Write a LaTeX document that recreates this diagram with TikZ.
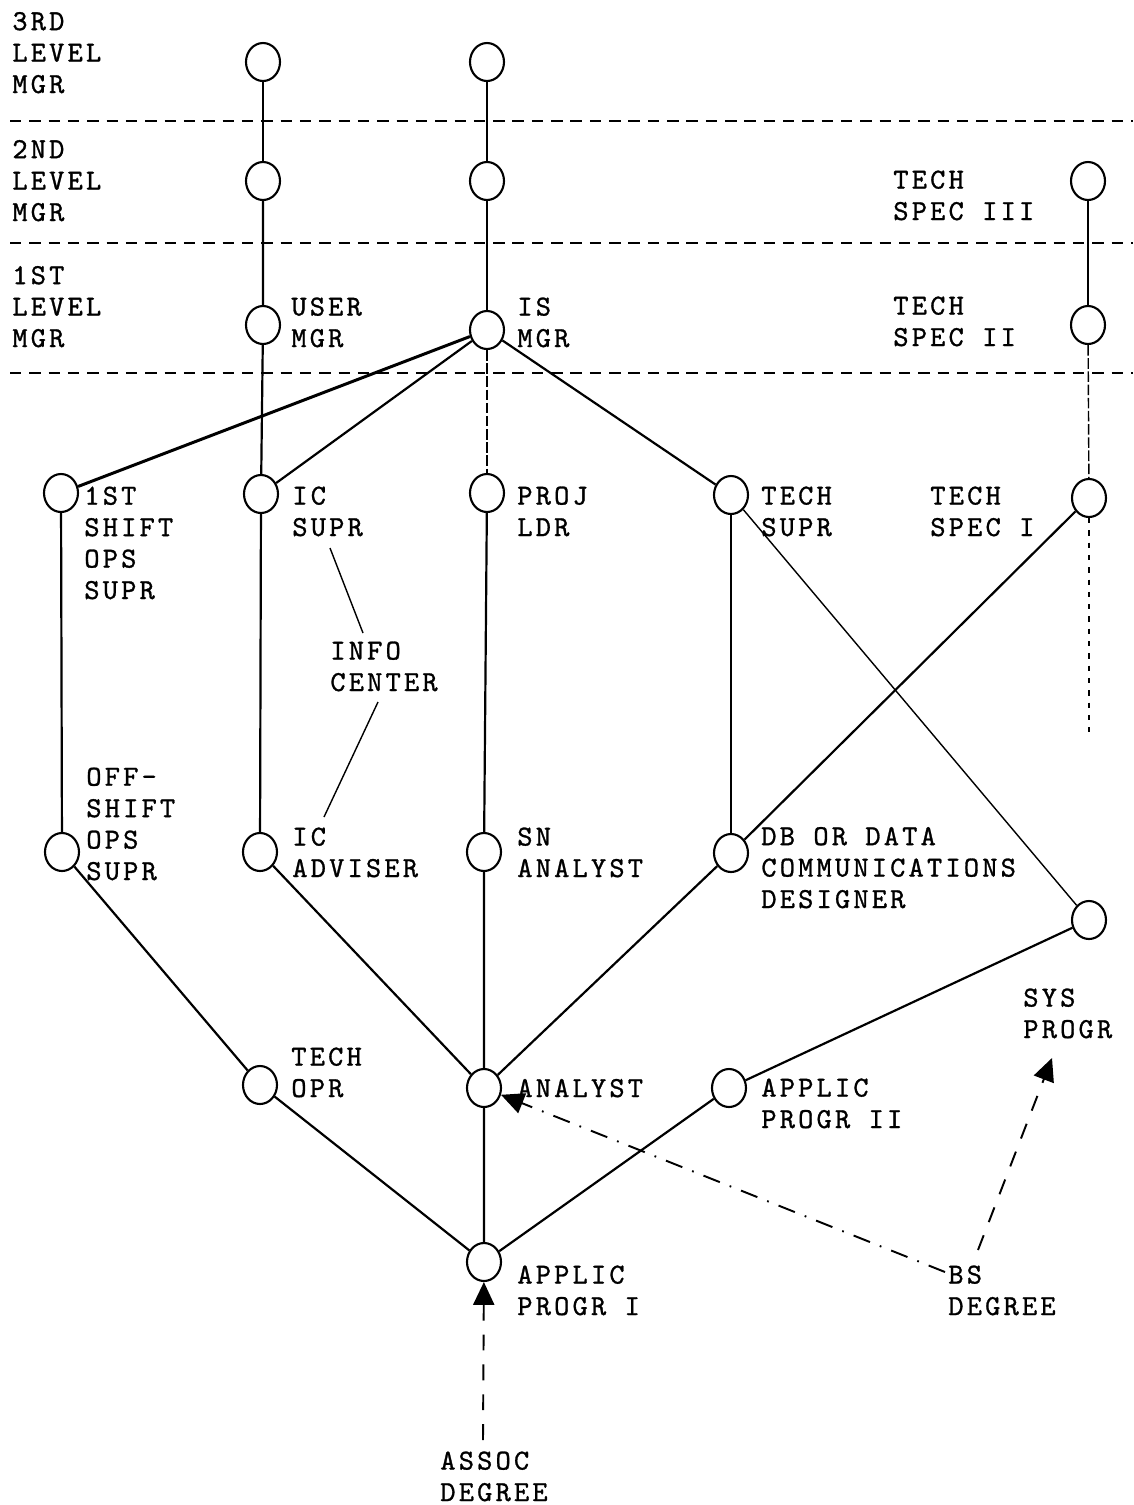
\documentclass[tikz,border=0pt]{standalone}
\usepackage{fontspec}
\newfontfamily\tw{lmmono10-regular.otf}[LetterSpace=11,FakeBold=1]
\usetikzlibrary{shapes.geometric,arrows.meta}
\begin{document}
\begin{tikzpicture}[x=0.02cm,y=-0.02cm,
  posn/.style={ellipse,draw,line width=1.2pt,minimum width=0.68cm,minimum height=0.76cm,inner sep=0pt},
  lbl/.style={anchor=base west,align=left,inner sep=0pt,font=\tw\fontsize{16.5}{17.9}\selectfont},
  levelline/.style={line width=1.1pt,dash pattern=on 6.5pt off 4.5pt},
  thn/.style={line width=0.8pt},
  med/.style={line width=1.25pt},
  thk/.style={line width=1.7pt},
  fdash/.style={line width=0.8pt,dash pattern=on 6pt off 1.5pt},
  fdot/.style={line width=0.8pt,dash pattern=on 3pt off 4pt},
  arrowtip/.style={-{Triangle[length=13pt,width=12pt]}},
  adash/.style={arrowtip,line width=1.1pt,dash pattern=on 9pt off 8pt},
  adashdot/.style={arrowtip,line width=1.1pt,dash pattern=on 10pt off 6pt on 1pt off 6pt},
]
\useasboundingbox (0,0) rectangle (1133,1505);
% level separators
\draw[levelline] (10,121) -- (1133,121);
\draw[levelline] (10,243) -- (1133,243);
\draw[levelline] (10,373) -- (1133,373);
% positions
\node[posn] (m3a) at (263,62) {};
\node[posn] (m3b) at (487,62) {};
\node[posn] (m2a) at (263,181) {};
\node[posn] (m2b) at (487,181) {};
\node[posn] (ts3) at (1088,181) {};
\node[posn] (user) at (263,325) {};
\node[posn] (ismgr) at (487,330) {};
\node[posn] (ts2) at (1088,325) {};
\node[posn] (shift1) at (61,493) {};
\node[posn] (icsupr) at (261,494) {};
\node[posn] (proj) at (487,493) {};
\node[posn] (techsupr) at (731,495) {};
\node[posn] (ts1) at (1089,498) {};
\node[posn] (offshift) at (62,852) {};
\node[posn] (icadv) at (260,852) {};
\node[posn] (sn) at (484,852) {};
\node[posn] (db) at (731,853) {};
\node[posn] (sys) at (1089,920) {};
\node[posn] (techopr) at (260,1085) {};
\node[posn] (analyst) at (484,1088) {};
\node[posn] (ap2) at (729,1088) {};
\node[posn] (ap1) at (484,1262) {};
% labels (anchored at the baseline of their last line)
\node[lbl] (l3) at (12,93) {3RD\\LEVEL\\MGR};
\node[lbl] (l2) at (12,221) {2ND\\LEVEL\\MGR};
\node[lbl] (l1) at (12,347) {1ST\\LEVEL\\MGR};
\node[lbl] (userl) at (291,347) {USER\\MGR};
\node[lbl] (isl) at (517,347) {IS\\MGR};
\node[lbl] (ts3l) at (893,220) {TECH\\SPEC III};
\node[lbl] (ts2l) at (893,346) {TECH\\SPEC II};
\node[lbl] (shiftl) at (84,599) {1ST\\SHIFT\\OPS\\SUPR};
\node[lbl] (icsl) at (292,536) {IC\\SUPR};
\node[lbl] (projl) at (517,536) {PROJ\\LDR};
\node[lbl] (tsupl) at (761,536) {TECH\\SUPR};
\node[lbl] (ts1l) at (930,536) {TECH\\SPEC I};
\node[lbl] (infol) at (330,691) {INFO\\CENTER};
\node[lbl] (offl) at (86,880) {OFF-\\SHIFT\\OPS\\SUPR};
\node[lbl] (icadvl) at (292,877) {IC\\ADVISER};
\node[lbl] (snl) at (517,877) {SN\\ANALYST};
\node[lbl] (dbl) at (761,908) {DB OR DATA\\COMMUNICATIONS\\DESIGNER};
\node[lbl] (sysl) at (1023,1038) {SYS\\PROGR};
\node[lbl] (techoprl) at (291,1097) {TECH\\OPR};
\node[lbl] (analystl) at (517,1097) {ANALYST};
\node[lbl] (ap2l) at (761,1128) {APPLIC\\PROGR II};
\node[lbl] (ap1l) at (517,1315) {APPLIC\\PROGR I};
\node[lbl] (bsl) at (948,1315) {BS\\DEGREE};
\node[lbl] (assocl) at (440,1501) {ASSOC\\DEGREE};
% free ends
\coordinate (ts1end) at (1089,735);
\coordinate (ica) at (330,548);
\coordinate (icb) at (363,633);
\coordinate (icc) at (378,702);
\coordinate (icd) at (324,817);
\coordinate (assocs) at (483,1440);
\coordinate (bsa) at (945,1272);
\coordinate (bsb) at (978,1250);
\coordinate (sysarr) at (1052,1058);
% connectors
\draw[thn] (m3a) -- (m2a);
\draw[med] (m2a) -- (user) -- (icsupr) -- (icadv);
\draw[thn] (m3b) -- (m2b);
\draw[med] (m2b) -- (ismgr);
\draw[fdash] (ismgr) -- (proj);
\draw[med] (proj) -- (sn) -- (analyst) -- (ap1);
\draw[thk] (ismgr) -- (shift1);
\draw[med] (ismgr) -- (icsupr);
\draw[med] (ismgr) -- (techsupr);
\draw[thn] (ts3) -- (ts2);
\draw[fdash] (ts2) -- (ts1);
\draw[fdot] (ts1) -- (ts1end);
\draw[med] (shift1) -- (offshift) -- (techopr) -- (ap1);
\draw[med] (icadv) -- (analyst);
\draw[med] (db) -- (analyst);
\draw[med] (techsupr) -- (db);
\draw[thn] (techsupr) -- (sys);
\draw[med] (ts1) -- (db);
\draw[med] (sys) -- (ap2) -- (ap1);
\draw[thn] (ica) -- (icb);
\draw[thn] (icc) -- (icd);
% degree arrows
\draw[adash] (assocs) -- (ap1);
\draw[adashdot] (bsa) -- (analyst);
\draw[adash] (bsb) -- (sysarr);
\end{tikzpicture}
\end{document}
